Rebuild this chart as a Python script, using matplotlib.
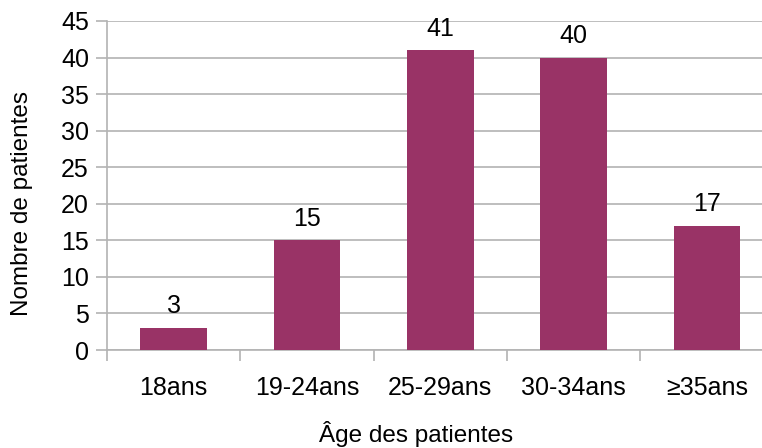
import matplotlib
matplotlib.use("Agg")
import matplotlib.pyplot as plt

categories = ["18ans", "19-24ans", "25-29ans", "30-34ans", "≥35ans"]
counts = [3, 15, 41, 40, 17]
y_ticks = list(range(0, 50, 5))

plt.rcParams['font.family'] = ['Liberation Sans', 'DejaVu Sans']

W, H = 762, 448
fig = plt.figure(figsize=(W / 100, H / 100), dpi=100)
# axes from x=107px to the right edge, y=21px (45) to 350px (0)
ax = fig.add_axes([107 / W, 1 - 350 / H, (W - 107) / W, (350 - 21) / H])

grey = "#b3b3b3"
x = list(range(len(categories)))
ax.bar(x, counts, width=0.5, color="#993366", zorder=3)
for xi, v in zip(x, counts):
    ax.annotate(str(v), (xi, v), xytext=(0, 7), textcoords="offset points",
                ha="center", va="bottom", fontsize=18)

ax.set_yticks(y_ticks)
ax.yaxis.grid(True, color=grey, linewidth=1.2, zorder=0)

# category boundaries as major ticks, labels on minor ticks at centres
ax.set_xticks([i + 0.5 for i in range(-1, len(categories))])
ax.set_xticklabels([])
ax.set_xticks(x, minor=True)
ax.set_xticklabels(categories, minor=True)
ax.tick_params(axis="x", which="major", length=8, color=grey, width=1.2)
ax.tick_params(axis="x", which="minor", length=0, pad=19, labelsize=18)
ax.tick_params(axis="y", length=8, color=grey, width=1.2, pad=5, labelsize=18)

# the reference crops the last category slightly on the right
ax.set_xlim(-0.5, -0.5 + (W - 107) / 133.3)
ax.set_ylim(0, 45)

for s in ["top", "right"]:
    ax.spines[s].set_visible(False)
for s in ["left", "bottom"]:
    ax.spines[s].set_color(grey)
    ax.spines[s].set_linewidth(1.2)

fig.text(22 / W, 1 - 204 / H, "Nombre de patientes", rotation=90,
         ha="center", va="center", fontsize=17.5)
fig.text(416 / W, 1 - 434 / H, "Âge des patientes", ha="center", va="center",
         fontsize=17.5)

fig.savefig("out.png", dpi=100)
